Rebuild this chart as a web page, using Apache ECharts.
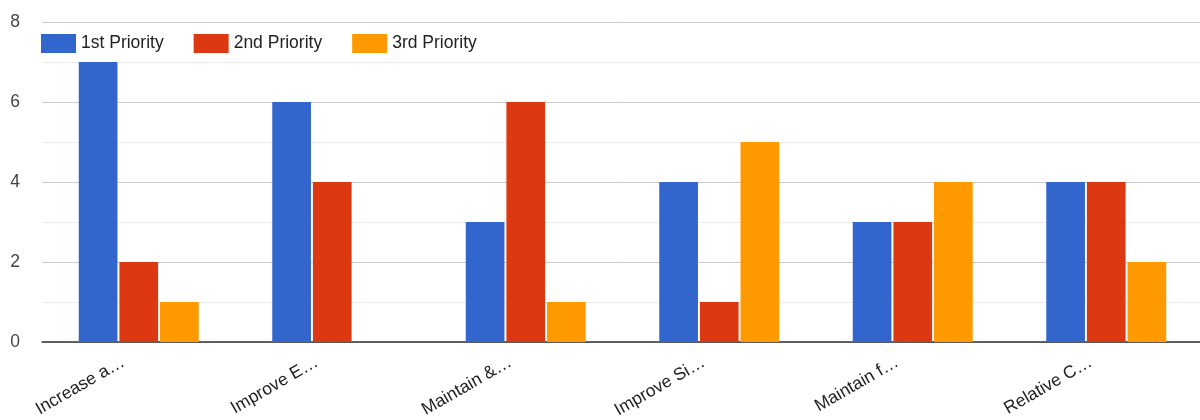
<!DOCTYPE html>
<html>
<head>
<meta charset="utf-8">
<script src="https://cdn.jsdelivr.net/npm/echarts@6/dist/echarts.min.js"></script>
<style>
  html, body { margin: 0; padding: 0; background: #fff; }
  .main { width: 1200px; height: 420px; }
</style>
</head>
<body>
<div class="main"></div>
<script>
// data
var categories = ['Increase a…', 'Improve E…', 'Maintain &…', 'Improve Si…', 'Maintain f…', 'Relative C…'];
var seriesNames = ['1st Priority', '2nd Priority', '3rd Priority'];
var first = [7, 6, 3, 4, 3, 4];
var second = [2, 4, 6, 1, 3, 4];
var third = [1, 0, 1, 5, 4, 2];
var colors = ['#3366cc', '#dc3912', '#ff9900'];

var myChart = echarts.init(document.querySelector('.main'));

function bar(name, data, color) {
  return {
    name: name,
    type: 'bar',
    data: data,
    barGap: '5%',
    barCategoryGap: '38%',
    itemStyle: { color: color }
  };
}

myChart.setOption({
  animation: false,
  textStyle: { fontFamily: 'Liberation Sans, Arial, sans-serif' },
  legend: {
    left: 36,
    top: 29,
    itemWidth: 35,
    itemHeight: 19,
    itemGap: 30,
    icon: 'rect',
    textStyle: { fontSize: 17.5, color: '#222' },
    data: seriesNames
  },
  grid: { left: 42, width: 1161, top: 22, bottom: 78, containLabel: false, outerBoundsMode: 'none' },
  xAxis: {
    type: 'category',
    data: categories,
    axisTick: { show: false },
    axisLine: { lineStyle: { color: '#333', width: 1.5 } },
    axisLabel: { rotate: 30, fontSize: 17.5, color: '#222', margin: 10, interval: 0, padding: [0, 18, 0, 0] }
  },
  yAxis: {
    type: 'value',
    min: 0,
    max: 8,
    interval: 2,
    axisLabel: { fontSize: 17.5, color: '#444', margin: 22 },
    axisLine: { show: false },
    axisTick: { show: false },
    splitLine: { lineStyle: { color: '#cccccc' } },
    minorTick: { show: false, splitNumber: 2 },
    minorSplitLine: { show: true, lineStyle: { color: '#ebebeb' } }
  },
  series: [
    bar(seriesNames[0], first, colors[0]),
    bar(seriesNames[1], second, colors[1]),
    bar(seriesNames[2], third, colors[2])
  ]
});
</script>
</body>
</html>
